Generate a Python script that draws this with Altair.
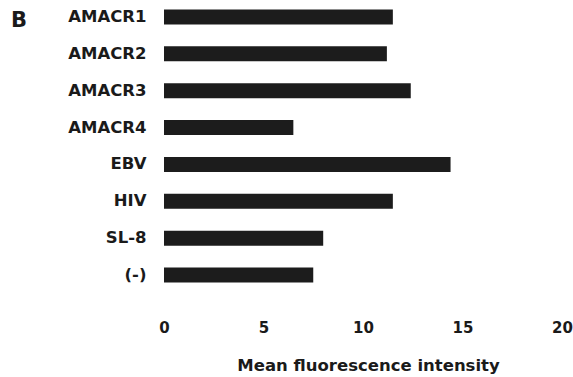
import altair as alt
import pandas as pd

# Mean fluorescence intensity per peptide stimulus
peptides = ["AMACR1", "AMACR2", "AMACR3", "AMACR4", "EBV", "HIV", "SL-8", "(-)"]
mfi = [11.5, 11.2, 12.4, 6.5, 14.4, 11.5, 8.0, 7.5]
panel_letter = "B"

df = pd.DataFrame({"peptide": peptides, "mfi": mfi})

FONT = "DejaVu Sans"
INK = "#1a1a1a"

bars = (
    alt.Chart(df)
    .mark_bar(color="#1c1c1c")
    .encode(
        x=alt.X(
            "mfi:Q",
            scale=alt.Scale(domain=[0, 20], nice=False),
            axis=alt.Axis(
                values=[0, 5, 10, 15, 20],
                title="Mean fluorescence intensity",
                titleFont=FONT,
                titleFontSize=16.5,
                titleFontWeight="bold",
                titleColor=INK,
                titlePadding=22,
                titleX=204,
                labelFont=FONT,
                labelFontSize=15,
                labelFontWeight="bold",
                labelColor=INK,
                labelPadding=28,
                labelFlush=False,
                domain=False,
                ticks=False,
                grid=False,
            ),
        ),
        y=alt.Y(
            "peptide:N",
            sort=peptides,
            scale=alt.Scale(paddingInner=0.593, paddingOuter=0.258),
            axis=alt.Axis(
                title=None,
                labelFont=FONT,
                labelFontSize=16.5,
                labelFontWeight="bold",
                labelColor=INK,
                labelPadding=18,
                labelBaseline="middle",
                domain=False,
                ticks=False,
                grid=False,
            ),
        ),
    )
)

# Panel letter in the top-left corner
letter = (
    alt.Chart(pd.DataFrame({"t": [panel_letter]}))
    .mark_text(
        font=FONT,
        fontSize=21,
        fontWeight="bold",
        color=INK,
        align="left",
        baseline="alphabetic",
    )
    .encode(text="t:N", x=alt.value(-153), y=alt.value(27))
)

chart = (
    alt.layer(bars, letter)
    .properties(width=398, height=292)
    .configure(
        autosize=alt.AutoSizeParams(type="none"),
        padding={"left": 164, "top": 0, "right": 11, "bottom": 85},
        background="white",
    )
    .configure_view(stroke=None)
)

chart.save("out.html", embed_options={"renderer": "svg", "actions": False})
